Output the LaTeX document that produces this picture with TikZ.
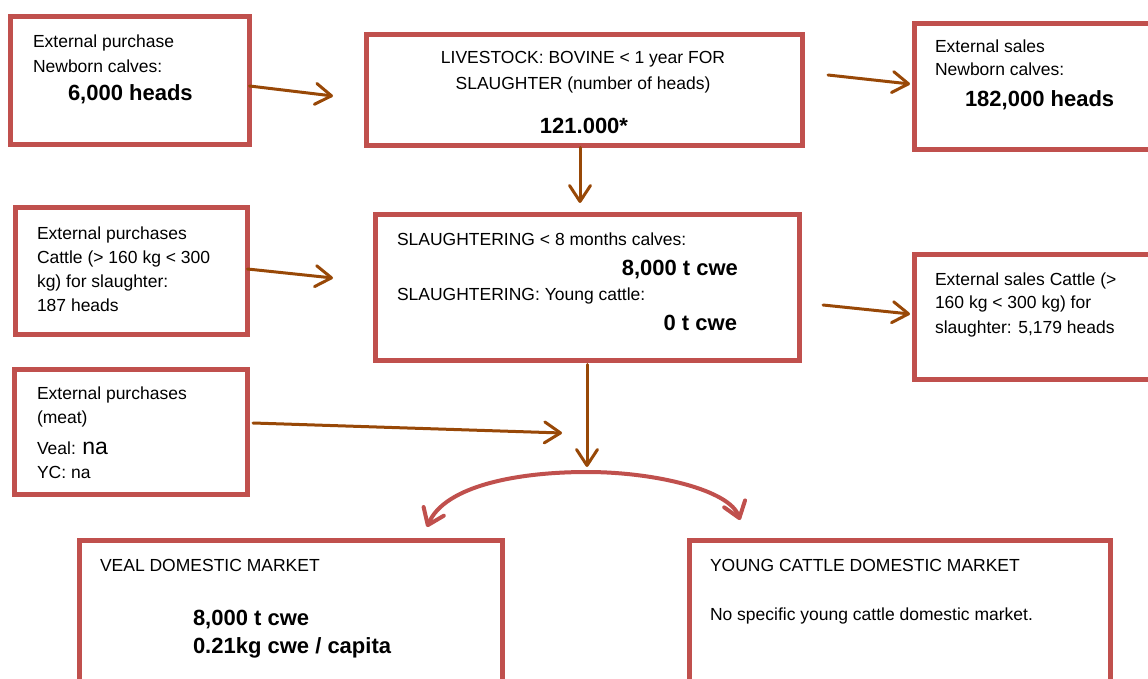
\documentclass[tikz,border=0pt]{standalone}
\usepackage{fontspec}
\setmainfont{Liberation Sans}
\usetikzlibrary{arrows.meta}
\definecolor{boxred}{HTML}{C0504D}
\definecolor{flowbrown}{HTML}{984807}
\tikzset{
  box/.style={draw=boxred, line width=5pt, rectangle, inner sep=0pt, outer sep=0pt, anchor=north west, fill=white},
  flow/.style={draw=flowbrown, line width=3pt, line cap=round,
    -{Straight Barb[length=16pt, width=21pt, line width=3pt, round]}},
  split/.style={draw=boxred, line width=4pt, line cap=round,
    {Straight Barb[length=15pt, width=22pt, line width=4pt, round]}-{Straight Barb[length=15pt, width=22pt, line width=4pt, round]}},
  txt/.style={inner sep=0pt, outer sep=0pt, anchor=base west, font=\fontsize{17.5}{24}\selectfont},
  big/.style={inner sep=0pt, outer sep=0pt, anchor=base west, font=\fontsize{22}{26}\selectfont\bfseries},
}
\begin{document}
\begin{tikzpicture}[x=1pt, y=-1pt]
\useasboundingbox (0,0) rectangle (1148,679);
\clip (0,0) rectangle (1148,679);

% boxes
\node[box, minimum width=239pt, minimum height=128pt] (purchNew) at (10.5,16.5) {};
\node[box, minimum width=436pt, minimum height=111pt] (stock) at (366.5,34.5) {};
\node[box, minimum width=250pt, minimum height=126pt] (salesNew) at (914.5,23.5) {};
\node[box, minimum width=232pt, minimum height=127pt] (purchCattle) at (15.5,207.5) {};
\node[box, minimum width=424pt, minimum height=146pt] (slaughter) at (375.5,214.5) {};
\node[box, minimum width=250pt, minimum height=125pt] (salesCattle) at (914.5,254.5) {};
\node[box, minimum width=233pt, minimum height=125pt] (purchMeat) at (14.5,369.5) {};
\node[box, minimum width=423pt, minimum height=200pt] (vealMkt) at (79.5,540.5) {};
\node[box, minimum width=421pt, minimum height=200pt] (ycMkt) at (689.5,540.5) {};

% texts
\node[txt] (t1a) at (33,48) {External purchase};
\node[txt] (t1b) at (33,73) {Newborn calves:};
\node[big] (t1c) at (68,101) {6,000 heads};

\node[txt, anchor=base] (t2a) at (583,64) {LIVESTOCK: BOVINE < 1 year FOR};
\node[txt, anchor=base] (t2b) at (583,90) {SLAUGHTER (number of heads)};
\node[big, anchor=base] (t2c) at (584,134) {121.000*};

\node[txt] (t3a) at (935,53) {External sales};
\node[txt] (t3b) at (935,76) {Newborn calves:};
\node[big] (t3c) at (965,107) {182,000 heads};

\node[txt] (t4a) at (37,239) {External purchases};
\node[txt] (t4b) at (37,263.3) {Cattle (> 160 kg < 300};
\node[txt] (t4c) at (37,287.5) {kg) for slaughter:};
\node[txt] (t4d) at (37,311.7) {187 heads};

\node[txt] (t5a) at (397,245.7) {SLAUGHTERING < 8 months calves:};
\node[big, anchor=base east] (t5b) at (738,275) {8,000 t cwe};
\node[txt] (t5c) at (397,300.7) {SLAUGHTERING: Young cattle:};
\node[big, anchor=base east] (t5d) at (737,330) {0 t cwe};

\node[txt] (t6a) at (935,285) {External sales Cattle (>};
\node[txt] (t6b) at (935,308.3) {160 kg < 300 kg) for};
\node[txt] (t6c) at (935,333.3) {slaughter: 5,179 heads};

\node[txt] (t7a) at (37,399) {External purchases};
\node[txt] (t7b) at (37,423.5) {(meat)};
\node[txt] (t7c) at (37,454) {Veal: {\fontsize{23}{26}\selectfont na}};
\node[txt] (t7d) at (37,478) {YC: na};

\node[txt] (t8a) at (100,571.7) {VEAL DOMESTIC MARKET};
\node[big] (t8b) at (193,625) {8,000 t cwe};
\node[big] (t8c) at (193,653.3) {0.21kg cwe / capita};

\node[txt] (t9a) at (710,571.7) {YOUNG CATTLE DOMESTIC MARKET};
\node[txt] (t9b) at (710,620) {No specific young cattle domestic market.};

% free ends of the flow arrows
\coordinate (inStock) at (333,96);
\coordinate (toSalesNew) at (910,84);
\coordinate (inSlaughter) at (580,203);
\coordinate (fromCattle) at (333,278);
\coordinate (toSalesCattle) at (910,314);
\coordinate (meatIn) at (562,433);
\coordinate (pool) at (587,467);
\coordinate (vealIn) at (427,527);
\coordinate (ycIn) at (740,520);

% flows
\draw[flow] (purchNew.east |- 0,86) -- (inStock);
\draw[flow] (828,75) -- (toSalesNew);
\draw[flow] (stock.south -| inSlaughter) ++(0,2) -- (inSlaughter);
\draw[flow] (purchCattle.east |- 0,269) -- (fromCattle);
\draw[flow] (823,305) -- (toSalesCattle);
\draw[flow] (253,423) -- (meatIn);
\draw[flow] (slaughter.south -| pool) ++(0,4) -- (pool);

% split to the two domestic markets
\draw[split] (vealIn) .. controls (445,485) and (520,472) .. (587,472)
  .. controls (655,472) and (730,490) .. (ycIn);
\end{tikzpicture}
\end{document}
